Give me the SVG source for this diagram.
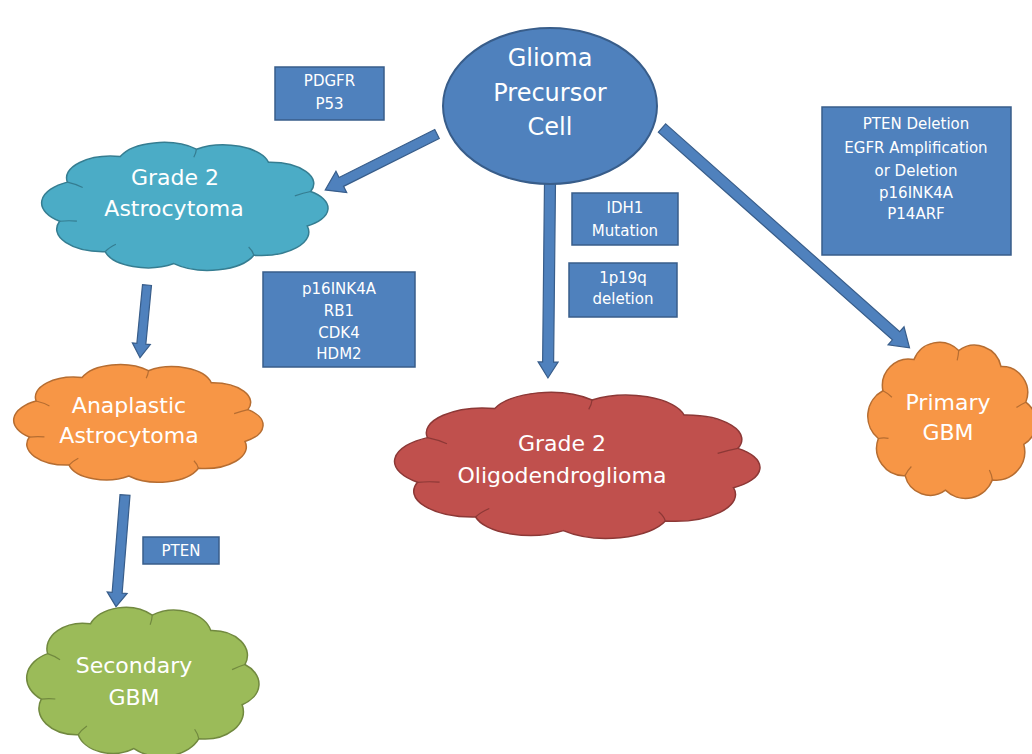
<svg xmlns="http://www.w3.org/2000/svg" width="1032" height="754" viewBox="0 0 1032 754">
<style>
.box{fill:#4F81BD;stroke:#385D8A;stroke-width:1.5}
.arr{fill:#4F81BD;stroke:#385D8A;stroke-width:1.2}
.bt{font-family:"DejaVu Sans",Verdana,sans-serif;font-size:15px;fill:#fff;text-anchor:middle}
.ct{font-family:"DejaVu Sans",Verdana,sans-serif;font-size:22px;fill:#fff;text-anchor:middle}
.et{font-family:"DejaVu Sans",Verdana,sans-serif;font-size:24px;fill:#fff;text-anchor:middle}
.cl{stroke-width:1.5}
.cr{fill:none;stroke-width:1.2}
</style>
<defs>
<path id="cloud" d="M6.5,60.6 A16.8,16.8 0 0 1 9.2,32.7 A15.5,15.5 0 0 1 27.5,14.5 A16.1,16.1 0 0 1 53.9,9.2 A16,16 0 0 1 78.9,18.6 A15.2,15.2 0 0 1 93.5,39.4 A14.8,14.8 0 0 1 92.3,64 A16.7,16.7 0 0 1 73.8,84.8 A17,17 0 0 1 46.1,90.8 A15.2,15.2 0 0 1 22.3,82.3 A16.1,16.1 0 0 1 6.5,60.6 Z" vector-effect="non-scaling-stroke"/>
<path id="crease" d="M9.2,32.7 Q12,34 14.5,36.5 M53.9,9.2 Q53.8,12 53,15 M93.5,39.4 Q91,40.5 88,42.5 M73.8,84.8 Q73.5,82 72,79 M22.3,82.3 Q23.5,79.5 26,77 M6.5,60.6 Q9.5,60 12.5,60.5" vector-effect="non-scaling-stroke"/>
</defs>

<g id="connectors">
<polygon class="arr" transform="translate(437,134) rotate(153.4)" points="0,-5 107,-5 107,-12 125,0 107,12 107,5 0,5"/>
<polygon class="arr" transform="translate(147,285) rotate(95.5)" points="0,-4.5 59,-4.5 59,-9 73,0 59,9 59,4.5 0,4.5"/>
<polygon class="arr" transform="translate(125,495) rotate(94.6)" points="0,-5 98,-5 98,-10 112,0 98,10 98,5 0,5"/>
<polygon class="arr" transform="translate(550,182) rotate(90.6)" points="0,-5.5 180,-5.5 180,-10 196,0 180,10 180,5.5 0,5.5"/>
<polygon class="arr" transform="translate(662,128) rotate(41.6)" points="0,-5.5 313,-5.5 313,-12 331,0 313,12 313,5.5 0,5.5"/>
</g>

<g id="glioma-precursor-cell">
<ellipse cx="550" cy="106" rx="107" ry="78" fill="#4F81BD" stroke="#385D8A" stroke-width="2"/>
<text class="et" x="550" y="66">Glioma</text>
<text class="et" x="550" y="101">Precursor</text>
<text class="et" x="550" y="135">Cell</text>
</g>

<g id="label-pdgfr">
<rect class="box" x="275" y="67" width="109" height="53"/>
<text class="bt" x="329.5" y="85.5">PDGFR</text>
<text class="bt" x="329.5" y="108.5">P53</text>
</g>

<g id="grade2-astrocytoma">
<g transform="translate(40.85,136.27) scale(2.886,1.402)" fill="#4BACC6" stroke="#357D91">
<use href="#cloud" class="cl"/>
<use href="#crease" class="cr"/>
</g>
<text class="ct" x="175" y="185">Grade 2</text>
<text class="ct" x="174" y="216">Astrocytoma</text>
</g>

<g id="label-p16">
<rect class="box" x="263" y="272" width="152" height="95"/>
<text class="bt" x="339" y="293.5">p16INK4A</text>
<text class="bt" x="339" y="315.5">RB1</text>
<text class="bt" x="339" y="337.5">CDK4</text>
<text class="bt" x="339" y="358.5">HDM2</text>
</g>

<g id="anaplastic-astrocytoma">
<g transform="translate(13,358.8) scale(2.513,1.291)" fill="#F79646" stroke="#B66D31">
<use href="#cloud" class="cl"/>
<use href="#crease" class="cr"/>
</g>
<text class="ct" x="129" y="413">Anaplastic</text>
<text class="ct" x="129" y="443">Astrocytoma</text>
</g>

<g id="label-pten">
<rect class="box" x="143" y="537" width="76" height="27"/>
<text class="bt" x="181" y="555.5">PTEN</text>
</g>

<g id="secondary-gbm">
<g transform="translate(26.06,600.16) scale(2.341,1.634)" fill="#9BBB59" stroke="#71893F">
<use href="#cloud" class="cl"/>
<use href="#crease" class="cr"/>
</g>
<text class="ct" x="134" y="673">Secondary</text>
<text class="ct" x="134" y="705">GBM</text>
</g>

<g id="label-idh1">
<rect class="box" x="572" y="193" width="106" height="52"/>
<text class="bt" x="625" y="212.5">IDH1</text>
<text class="bt" x="625" y="235.5">Mutation</text>
</g>

<g id="label-1p19q">
<rect class="box" x="569" y="263" width="108" height="54"/>
<text class="bt" x="623" y="282.5">1p19q</text>
<text class="bt" x="623" y="303.5">deletion</text>
</g>

<g id="grade2-oligodendroglioma">
<g transform="translate(393.53,385.32) scale(3.683,1.6)" fill="#C0504D" stroke="#8C3836">
<use href="#cloud" class="cl"/>
<use href="#crease" class="cr"/>
</g>
<text class="ct" x="562" y="451">Grade 2</text>
<text class="ct" x="562" y="483">Oligodendroglioma</text>
</g>

<g id="label-pten-deletion">
<rect class="box" x="822" y="107" width="189" height="148"/>
<text class="bt" x="916" y="128.5">PTEN Deletion</text>
<text class="bt" x="916" y="152.5">EGFR Amplification</text>
<text class="bt" x="916" y="175.5">or Deletion</text>
<text class="bt" x="916" y="197.5">p16INK4A</text>
<text class="bt" x="916" y="218.5">P14ARF</text>
</g>

<g id="primary-gbm">
<g transform="translate(867.32,334.79) scale(1.695,1.711)" fill="#F79646" stroke="#B66D31">
<use href="#cloud" class="cl"/>
<use href="#crease" class="cr"/>
</g>
<text class="ct" x="948" y="410">Primary</text>
<text class="ct" x="948" y="440">GBM</text>
</g>
</svg>
